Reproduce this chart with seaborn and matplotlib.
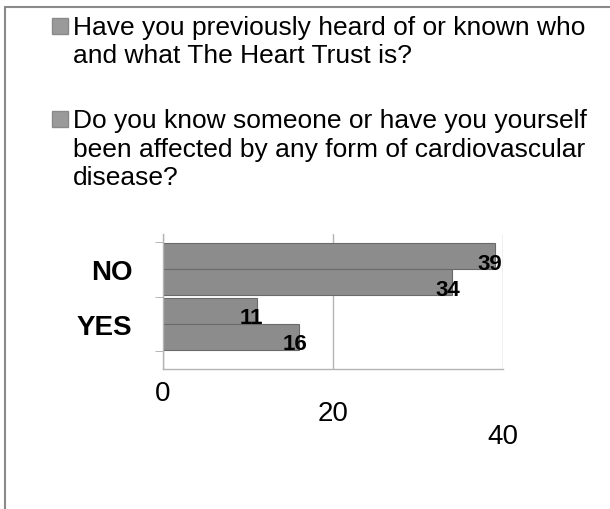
import matplotlib
matplotlib.use("Agg")
import matplotlib.pyplot as plt
import matplotlib.transforms as mtransforms
from matplotlib.lines import Line2D
import seaborn as sns
import pandas as pd

answers = ["NO", "YES"]
heard_of_trust = [39, 11]
affected_by_cvd = [34, 16]
questions = [
    "Have you previously heard of or known who\nand what The Heart Trust is?",
    "Do you know someone or have you yourself\nbeen affected by any form of cardiovascular\ndisease?",
]
x_ticks = [0, 20, 40]

df = pd.DataFrame({
    "answer": answers * 2,
    "count": heard_of_trust + affected_by_cvd,
    "question": [questions[0]] * 2 + [questions[1]] * 2,
})

sns.set_style("white")
plt.rcParams['font.family'] = ['Liberation Sans', 'DejaVu Sans']
plt.rcParams['text.color'] = 'black'
plt.rcParams['xtick.color'] = 'black'
plt.rcParams['ytick.color'] = 'black'

fig = plt.figure(figsize=(6.1, 5.1), dpi=100)
ax = fig.add_axes([163 / 610, 1 - 370 / 510, 340 / 610, 135 / 510])

bar_grey = "#8c8c8c"
sns.barplot(data=df, y="answer", x="count", hue="question", orient="h",
            palette=[bar_grey, bar_grey], edgecolor="#6a6a6a", linewidth=0.8,
            width=0.95, legend=False, ax=ax)

for c in ax.containers:
    labels = ax.bar_label(c, fmt="%d", padding=-12, fontsize=16, fontweight="bold",
                          color="black")
    for t in labels:
        t.xyann = (t.xyann[0], -5)

ax.set_xlim(0, 40)
ax.set_ylim(1.82, -0.64)
ax.set_xticks(x_ticks)
ax.set_xlabel("")
ax.set_ylabel("")
ax.grid(axis="x", color="#b4b4b4", lw=1)
for s in ["top", "right"]:
    ax.spines[s].set_visible(False)
for s in ["left", "bottom"]:
    ax.spines[s].set_color("#b4b4b4")
    ax.spines[s].set_linewidth(1)

ax.tick_params(axis="y", which="major", length=0, pad=22, labelsize=20)
for lab in ax.get_yticklabels():
    lab.set_fontweight("bold")
ax.set_yticks([-0.5, 0.5, 1.5], minor=True)
ax.tick_params(axis="y", which="minor", left=True, length=6, color="#a8a8a8")
ax.tick_params(axis="x", length=0, pad=8, labelsize=20)

# staggered x tick labels (perspective look)
for lab, dy in zip(ax.get_xticklabels(), [0, 20, 43]):
    lab.set_transform(lab.get_transform() +
                      mtransforms.ScaledTranslation(0, -dy / 100, fig.dpi_scale_trans))

handles = [Line2D([], [], marker="s", markersize=11, linestyle="",
                  markerfacecolor="#9a9a9a", markeredgecolor="#8a8a8a") for _ in questions]
leg = fig.legend(handles, questions, loc="upper left", bbox_to_anchor=(52 / 610, 1 - 16 / 510),
                 frameon=False, fontsize=19, handlelength=0.6, handleheight=1.2,
                 handletextpad=0.2, labelspacing=1.55, borderpad=0, borderaxespad=0)
for t in leg.get_texts():
    t.set_linespacing(1.23)
    t.set_color("black")
for col in leg._legend_handle_box.get_children():
    for row in col.get_children():
        row.align = "top"

# chart frame (cropped)
fig.add_artist(Line2D([5 / 610, 5 / 610], [0, 1 - 8 / 510], color="#8a8a8a", lw=1.5))
fig.add_artist(Line2D([5 / 610, 1], [1 - 8 / 510, 1 - 8 / 510], color="#8a8a8a", lw=1.5))

fig.savefig("out.png", dpi=100)
